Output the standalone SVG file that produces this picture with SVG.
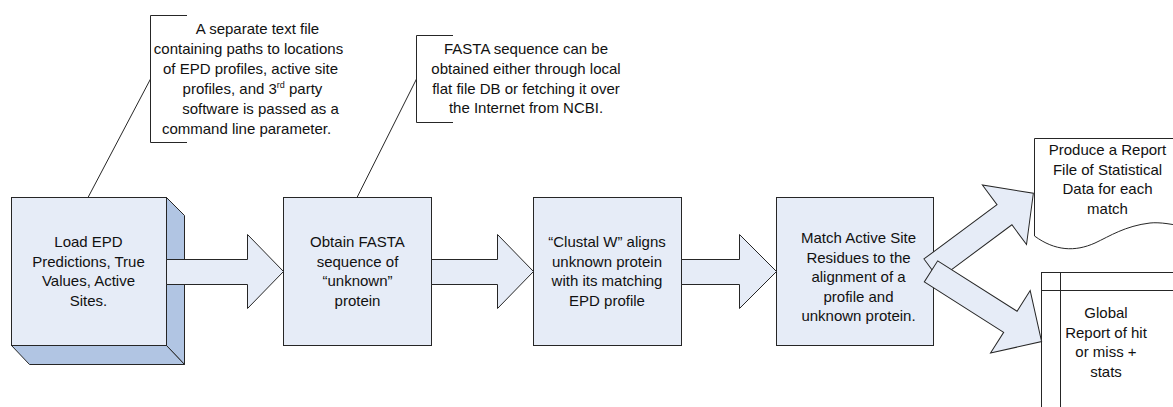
<svg xmlns="http://www.w3.org/2000/svg" width="1173" height="407" viewBox="0 0 1173 407">
  <style>
    .box { fill: #E6ECF7; stroke: #262626; stroke-width: 1; }
    .shade { fill: #B1C5E3; stroke: #262626; stroke-width: 1; stroke-linejoin: round; }
    .arrow { fill: #E6ECF7; stroke: #262626; stroke-width: 1; stroke-linejoin: miter; }
    .line { fill: none; stroke: #262626; stroke-width: 1; }
    .plain { fill: #FFFFFF; stroke: #262626; stroke-width: 1; }
    text { font-family: "Liberation Sans", Arial, sans-serif; font-size: 15px; fill: #111; text-anchor: middle; }
    .sup { font-size: 9px; }
  </style>

  <!-- Step 1: raised block -->
  <g id="load-epd">
    <polygon class="shade" points="166.5,197.5 184.5,215.5 184.5,364.5 166.5,345.5"/>
    <polygon class="shade" points="11.5,345.5 29.5,364.5 184.5,364.5 166.5,345.5"/>
    <rect class="box" x="11.5" y="197.5" width="155" height="148"/>
    <text x="88.5" y="247">Load EPD</text>
    <text x="88.5" y="266.5">Predictions, True</text>
    <text x="88.5" y="286">Values, Active</text>
    <text x="88.5" y="305.5">Sites.</text>
  </g>

  <!-- Step 2 -->
  <g id="obtain-fasta">
    <rect class="box" x="283.5" y="197.5" width="148" height="148"/>
    <text x="357.5" y="247">Obtain FASTA</text>
    <text x="357.5" y="266.5">sequence of</text>
    <text x="357.5" y="286">“unknown”</text>
    <text x="357.5" y="305.5">protein</text>
  </g>

  <!-- Step 3 -->
  <g id="clustal-w">
    <rect class="box" x="533.5" y="197.5" width="148" height="148"/>
    <text x="607" y="247">“Clustal W” aligns</text>
    <text x="607" y="266.5">unknown protein</text>
    <text x="607" y="286">with its matching</text>
    <text x="607" y="305.5">EPD profile</text>
  </g>

  <!-- Step 4 -->
  <g id="match-sites">
    <rect class="box" x="776.5" y="197.5" width="157" height="148"/>
    <text x="858.5" y="243">Match Active Site</text>
    <text x="858.5" y="262.5">Residues to the</text>
    <text x="858.5" y="282">alignment of a</text>
    <text x="858.5" y="301.5">profile and</text>
    <text x="858.5" y="321">unknown protein.</text>
  </g>

  <!-- Output: report document -->
  <g id="report-file">
    <path class="plain" d="M1034.5,138.5 H1190 V228 C1172,224 1160,222 1150,223 C1125,226 1110,236 1095,243 C1075,252 1055,251 1034.5,236 Z"/>
    <text x="1107.5" y="155">Produce a Report</text>
    <text x="1107.5" y="174.5">File of Statistical</text>
    <text x="1107.5" y="194">Data for each</text>
    <text x="1107.5" y="213.5">match</text>
  </g>

  <!-- Output: global report store -->
  <g id="global-report">
    <rect class="plain" x="1041.5" y="272.5" width="150" height="150"/>
    <line class="line" x1="1060.5" y1="272.5" x2="1060.5" y2="422"/>
    <line class="line" x1="1041.5" y1="290.5" x2="1191" y2="290.5"/>
    <text x="1106" y="318">Global</text>
    <text x="1106" y="337.5">Report of hit</text>
    <text x="1106" y="357">or miss +</text>
    <text x="1106" y="376.5">stats</text>
  </g>

  <!-- Annotation: configuration file -->
  <g id="note-config">
    <polyline class="line" points="187,15.5 150.5,15.5 150.5,142.5 187,142.5"/>
    <text x="257.5" y="34">A separate text file</text>
    <text x="248.5" y="54">containing paths to locations</text>
    <text x="250.5" y="74">of EPD profiles, active site</text>
    <text x="252.5" y="94">profiles, and 3<tspan class="sup" dy="-6">rd</tspan><tspan dy="6"> party</tspan></text>
    <text x="260.5" y="114">software is passed as a</text>
    <text x="246.5" y="134">command line parameter.</text>
  </g>

  <!-- Annotation: FASTA source -->
  <g id="note-fasta">
    <polyline class="line" points="453,35.5 416.5,35.5 416.5,122.5 453,122.5"/>
    <text x="526" y="54">FASTA sequence can be</text>
    <text x="526" y="74">obtained either through local</text>
    <text x="526" y="93.5">flat file DB or fetching it over</text>
    <text x="526" y="113">the Internet from NCBI.</text>
  </g>

  <!-- Connectors: annotation leaders and block arrows -->
  <g id="connectors">
    <line class="line" x1="150.5" y1="79" x2="88" y2="197.5"/>
    <line class="line" x1="416.5" y1="79" x2="357" y2="197.5"/>

    <polygon class="arrow" points="166.5,259.5 247.5,259.5 247.5,234.5 283.5,271.5 247.5,308.5 247.5,284.5 166.5,284.5"/>
    <polygon class="arrow" points="431.5,259.5 497.5,259.5 497.5,234.5 533.5,271.5 497.5,308.5 497.5,284.5 431.5,284.5"/>
    <polygon class="arrow" points="681.5,259.5 739.5,259.5 739.5,234.5 776.5,271.5 739.5,308.5 739.5,284.5 681.5,284.5"/>

    <path class="arrow" transform="translate(931.4,269) rotate(-36.6)" d="M0,-12.5 H91 V-37 L127,0 L91,37 V12.5 H0 Z"/>
    <path class="arrow" transform="translate(931,271.4) rotate(32.4)" d="M0,-12.5 H94 V-37 L131,0 L94,37 V12.5 H0 Z"/>
  </g>
</svg>
